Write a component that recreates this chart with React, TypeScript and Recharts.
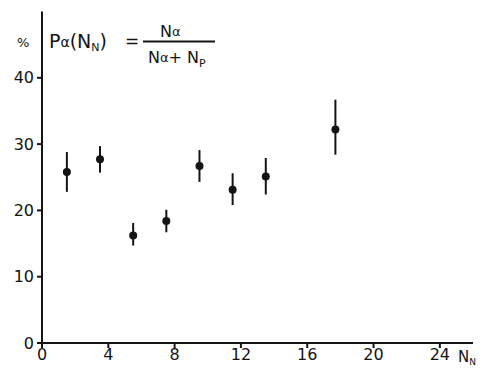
import { ScatterChart, Scatter, XAxis, YAxis, ErrorBar } from 'recharts';

// N_N values (x) and P_alpha in percent (y)
const nN = [1.5, 3.5, 5.5, 7.5, 9.5, 11.5, 13.5, 17.7];
const pAlpha = [25.8, 27.7, 16.2, 18.4, 26.7, 23.1, 25.1, 32.2];
const errLow = [3.0, 2.0, 1.5, 1.7, 2.4, 2.3, 2.7, 3.8];
const errHigh = [3.0, 2.0, 1.9, 1.7, 2.4, 2.5, 2.8, 4.5];

const xTicks = [0, 4, 8, 12, 16, 20, 24];
const yTicks = [0, 10, 20, 30, 40];

const data = nN.map((x, i) => ({ x, y: pAlpha[i], err: [errLow[i], errHigh[i]] }));

const INK = '#141414';
const FONT = '"DejaVu Sans", sans-serif';

const Dot = (props: any) => <circle cx={props.cx} cy={props.cy} r={4} fill={INK} />;

export default function App() {
  return (
    <div style={{ position: 'absolute', left: 0, top: 0, width: 489, height: 386, background: '#fff' }}>
      <ScatterChart width={489} height={386} margin={{ top: 11.5, right: 16, bottom: 13, left: 6 }}>
        <XAxis
          type="number"
          dataKey="x"
          domain={[0, 26]}
          ticks={xTicks}
          height={30}
          tickSize={5}
          tickMargin={1}
          stroke={INK}
          strokeWidth={2}
          tick={{ fill: INK, fontSize: 16, fontFamily: FONT }}
        />
        <YAxis
          type="number"
          dataKey="y"
          domain={[0, 50]}
          ticks={yTicks}
          width={36}
          tickSize={5}
          tickMargin={3}
          stroke={INK}
          strokeWidth={2}
          tick={{ fill: INK, fontSize: 16, fontFamily: FONT }}
        />
        <Scatter data={data} dataKey="y" shape={Dot} isAnimationActive={false}>
          <ErrorBar dataKey="err" direction="y" width={0} strokeWidth={2} stroke={INK} isAnimationActive={false} />
        </Scatter>
      </ScatterChart>
      <svg width={489} height={386} style={{ position: 'absolute', left: 0, top: 0, pointerEvents: 'none' }}>
        <g fill={INK} fontFamily={FONT}>
          <text x={17} y={47} fontSize={13}>%</text>
          <text x={49} y={48} fontSize={19}>
            P<tspan fontSize={14} dy={-1}>α</tspan>
            <tspan dy={1}>(N</tspan>
            <tspan fontSize={11} dy={3}>N</tspan>
            <tspan dy={-3}>)</tspan>
          </text>
          <text x={125} y={47} fontSize={17}>=</text>
          <text x={160} y={37} fontSize={16}>
            N<tspan fontSize={13} dy={-1}>α</tspan>
          </text>
          <line x1={143} y1={41.5} x2={215} y2={41.5} stroke={INK} strokeWidth={2} />
          <text x={148} y={63} fontSize={16}>
            N<tspan fontSize={13} dy={-1}>α</tspan>
            <tspan dy={1}>+ N</tspan>
            <tspan fontSize={11} dy={4}>P</tspan>
          </text>
          <text x={458} y={362} fontSize={15}>
            N<tspan fontSize={9} dy={3}>N</tspan>
          </text>
        </g>
      </svg>
    </div>
  );
}
